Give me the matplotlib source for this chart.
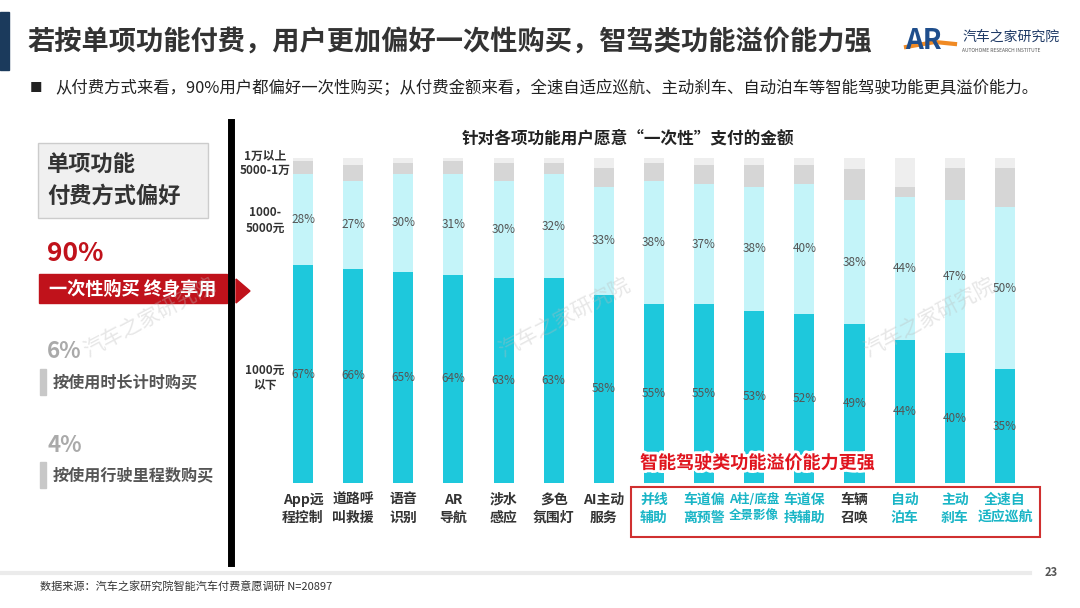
import matplotlib.pyplot as plt
import matplotlib.patches as mpatches
import matplotlib.patheffects as pe
import numpy as np

plt.rcParams['font.family'] = ['Noto Sans CJK SC', 'DejaVu Sans']

# data
features = ['App远\n程控制', '道路呼\n叫救援', '语音\n识别', 'AR\n导航', '涉水\n感应', '多色\n氛围灯',
            'AI主动\n服务', '并线\n辅助', '车道偏\n离预警', 'A柱/底盘\n全景影像', '车道保\n持辅助',
            '车辆\n召唤', '自动\n泊车', '主动\n刹车', '全速自\n适应巡航']
below_1000 = [67, 66, 65, 64, 63, 63, 58, 55, 55, 53, 52, 49, 44, 40, 35]
r_1000_5000 = [28, 27, 30, 31, 30, 32, 33, 38, 37, 38, 40, 38, 44, 47, 50]
r_5000_1w = [4, 5, 3.5, 4, 5.5, 3.5, 6, 5.5, 6, 7, 6, 9.5, 3, 10, 12]
above_1w = [1, 2, 1.5, 1, 1.5, 1.5, 3, 1.5, 2, 2, 2, 3.5, 9, 3, 3]
teal_label = [False] * 7 + [True, True, True, True, False, True, True, True]

pay_shares = ['90%', '6%', '4%']
pay_modes = ['一次性购买 终身享用', '按使用时长计时购买', '按使用行驶里程数购买']

W, H = 1080, 608
fig = plt.figure(figsize=(10.8, 6.08), dpi=100)
fig.patch.set_facecolor('white')


def fx(px):
    return px / W


def fy(py):
    return 1 - py / H


# ---- header ----
fig.patches.append(mpatches.Rectangle((0, fy(70)), fx(9), fy(12) - fy(70), transform=fig.transFigure,
                                      color='#1b3a5c', zorder=1))
fig.text(fx(27), fy(43), '若按单项功能付费，用户更加偏好一次性购买，智驾类功能溢价能力强',
         fontsize=19.6, fontweight='bold', color='#333333', va='center')
fig.text(fx(30), fy(88), '■', fontsize=9, color='#222222', va='center')
fig.text(fx(55), fy(88), '从付费方式来看，90%用户都偏好一次性购买；从付费金额来看，全速自适应巡航、主动刹车、自动泊车等智能驾驶功能更具溢价能力。',
         fontsize=11.8, color='#222222', va='center')

# logo
fig.text(fx(905), fy(41), 'AR', fontsize=20, fontweight='bold', style='italic', color='#1f4e8c', va='center')
fig.lines.append(plt.Line2D([fx(906), fx(935), fx(955)], [fy(47), fy(42), fy(44)], transform=fig.transFigure,
                            color='#f08a24', lw=3))
fig.text(fx(962), fy(37), '汽车之家研究院', fontsize=10, color='#1f3a66', va='center')
fig.text(fx(962), fy(50), 'AUTOHOME RESEARCH INSTITUTE', fontsize=3.5, color='#555555', va='center')

# ---- left panel ----
fig.patches.append(mpatches.Rectangle((fx(38), fy(218)), fx(170), fy(143) - fy(218), transform=fig.transFigure,
                                      facecolor='#f0f0f0', edgecolor='#cccccc', lw=1))
fig.text(fx(47), fy(165), '单项功能', fontsize=16, fontweight='bold', color='#333333', va='center')
fig.text(fx(47), fy(196), '付费方式偏好', fontsize=16, fontweight='bold', color='#333333', va='center')

fig.text(fx(47), fy(253), pay_shares[0], fontsize=19, fontweight='bold', color='#c0121b', va='center')
fig.patches.append(mpatches.Rectangle((fx(39), fy(303)), fx(188), fy(274) - fy(303), transform=fig.transFigure,
                                      color='#c0121b'))
fig.text(fx(49), fy(289), pay_modes[0], fontsize=13.1, fontweight='bold', color='white', va='center')
fig.patches.append(mpatches.Polygon([[fx(236), fy(279)], [fx(250), fy(291)], [fx(236), fy(303)]],
                                    closed=True, transform=fig.transFigure, color='#c0121b'))

for share, mode, ys in zip(pay_shares[1:], pay_modes[1:], [352, 445]):
    fig.text(fx(47), fy(ys), share, fontsize=16, fontweight='bold', color='#aaaaaa', va='center')
    fig.patches.append(mpatches.Rectangle((fx(40), fy(ys + 43)), fx(6), fy(ys + 17) - fy(ys + 43),
                                          transform=fig.transFigure, color='#c8c8c8'))
    fig.text(fx(53), fy(ys + 30), mode, fontsize=11.6, fontweight='bold', color='#555555', va='center')

# black divider
fig.lines.append(plt.Line2D([fx(231), fx(231)], [fy(122), fy(563)], transform=fig.transFigure,
                            color='black', lw=5))

# ---- bar chart ----
ax = fig.add_axes([fx(270), fy(483), fx(770), fy(158) - fy(483)])
x = np.arange(len(features))
c_dark, c_light, c_gray, c_top = '#1ec8dc', '#c4f4f9', '#d6d6d6', '#eeeeee'
b0 = np.array(below_1000, dtype=float)
b1 = b0 + np.array(r_1000_5000)
b2 = b1 + np.array(r_5000_1w)
ax.bar(x, below_1000, width=0.4, color=c_dark)
ax.bar(x, r_1000_5000, width=0.4, bottom=b0, color=c_light)
ax.bar(x, r_5000_1w, width=0.4, bottom=b1, color=c_gray)
ax.bar(x, above_1w, width=0.4, bottom=b2, color=c_top)
for i in range(len(features)):
    ax.text(x[i], below_1000[i] / 2, f'{below_1000[i]}%', ha='center', va='center', fontsize=8.5, color='#555555')
    ax.text(x[i], b0[i] + r_1000_5000[i] / 2, f'{r_1000_5000[i]}%', ha='center', va='center',
            fontsize=8.5, color='#555555')
    ax.text(x[i], -0.03, features[i], transform=ax.get_xaxis_transform(), ha='center', va='top',
            fontsize=9 if len(features[i]) > 8 else 10, fontweight='bold', linespacing=1.35,
            color='#19b5c6' if teal_label[i] else '#333333')
ax.set_xlim(-0.658, 14.70)
ax.set_ylim(0, 100)
ax.axis('off')

# range labels on the left of bars
for txt, ys in [('1万以上', 156), ('5000-1万', 170), ('1000-\n5000元', 220), ('1000元\n以下', 378)]:
    fig.text(fx(265), fy(ys), txt, fontsize=8.5, fontweight='bold', style='italic', color='#333333',
             ha='center', va='center', linespacing=1.3)

fig.text(fx(628), fy(138), '针对各项功能用户愿意“一次性”支付的金额', fontsize=12, fontweight='bold',
         color='#222222', ha='center', va='center')

# highlight for smart driving features
fig.text(fx(640), fy(463), '智能驾驶类功能溢价能力更强', fontsize=13, fontweight='bold', color='#e0141e',
         va='center', path_effects=[pe.withStroke(linewidth=4, foreground='white')])
fig.patches.append(mpatches.Rectangle((fx(631), fy(537)), fx(409), fy(487) - fy(537), transform=fig.transFigure,
                                      fill=False, edgecolor='#d03030', lw=1.5))

# watermarks
for wx in [150, 565, 930]:
    fig.text(fx(wx), fy(318), '汽车之家研究院', fontsize=15, color='#bbbbbb', alpha=0.35,
             rotation=28, ha='center', va='center')

# ---- footer ----
fig.lines.append(plt.Line2D([0, fx(1030)], [fy(573), fy(573)], transform=fig.transFigure,
                            color='#ebebeb', lw=3))
fig.text(fx(1045), fy(572), '23', fontsize=8, fontweight='bold', color='#555555', va='center')
fig.text(fx(40), fy(586), '数据来源：汽车之家研究院智能汽车付费意愿调研 N=20897', fontsize=8,
         color='#333333', va='center')

fig.savefig('out.png', dpi=100)
